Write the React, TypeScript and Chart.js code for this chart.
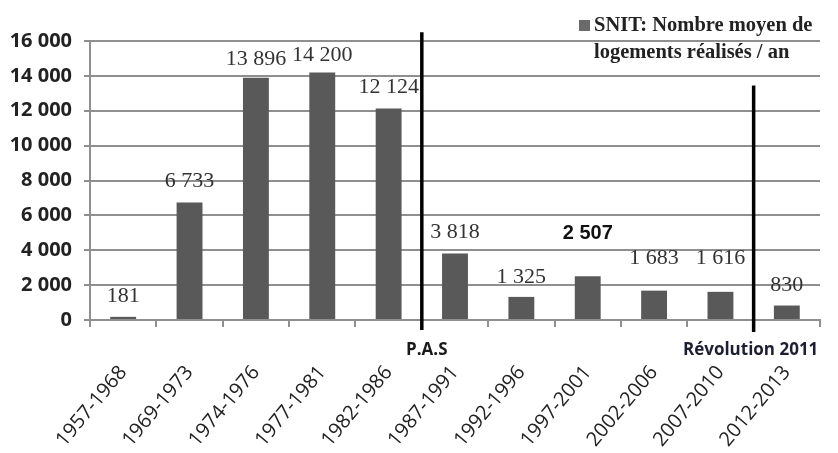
import React, { useEffect, useRef } from "react";
import { Chart, registerables } from "chart.js";

Chart.register(...registerables);

const categories = [
  "1957-1968", "1969-1973", "1974-1976", "1977-1981", "1982-1986", "1987-1991",
  "1992-1996", "1997-2001", "2002-2006", "2007-2010", "2012-2013",
];
const logements = [181, 6733, 13896, 14200, 12124, 3818, 1325, 2507, 1683, 1616, 830];
const seriesName = ["SNIT: Nombre moyen de", "logements réalisés / an"];
const yTicks = [0, 2000, 4000, 6000, 8000, 10000, 12000, 14000, 16000];
const markers = [
  { label: "P.A.S", after: 4 },
  { label: "Révolution 2011", after: 9 },
];

const fmt = (v: number) => String(v).replace(/\B(?=(\d{3})+(?!\d))/g, " ");

const BAR = "#595959";
const GRID = "#8f8f8f";

export default function App() {
  const ref = useRef<HTMLCanvasElement | null>(null);
  useEffect(() => {
    const canvas = ref.current;
    if (!canvas) return;
    const liftPx = [21, 21, 18, 17, 21, 21, 20, 43, 32, 34, 20];
    const overlay = {
      id: "overlay",
      afterDraw(chart: any) {
        const { ctx, scales } = chart;
        const x = scales.x;
        const y = scales.y;
        const meta = chart.getDatasetMeta(0);
        ctx.save();
        // data labels
        meta.data.forEach((bar: any, i: number) => {
          const special = logements[i] === 2507;
          ctx.font = special ? "bold 20px 'Liberation Sans'" : "22px 'Liberation Serif'";
          ctx.fillStyle = special ? "#111" : "#333";
          ctx.textAlign = "center";
          ctx.textBaseline = "middle";
          ctx.fillText(fmt(logements[i]), bar.x, bar.y - liftPx[i]);
        });
        // vertical markers
        const tops = [16500, 13450];
        markers.forEach((m, k) => {
          const px = (x.getPixelForValue(m.after) + x.getPixelForValue(m.after + 1)) / 2;
          ctx.strokeStyle = "#000";
          ctx.lineWidth = 3.5;
          ctx.beginPath();
          ctx.moveTo(px, y.getPixelForValue(tops[k]));
          ctx.lineTo(px, y.bottom + 10 + k * 2);
          ctx.stroke();
          ctx.font = "bold 17px 'Open Sans'";
          ctx.fillStyle = k === 0 ? "#1a1a1a" : "#1e1e33";
          ctx.textAlign = "center";
          ctx.textBaseline = "middle";
          const tx = k === 0 ? px + 5 : Math.min(px - 3, chart.width - 4 - ctx.measureText(m.label).width / 2);
          ctx.fillText(m.label, tx, y.bottom + 30);
        });
        // legend
        ctx.fillStyle = "#6a6a6a";
        ctx.fillRect(579, 20, 11, 11);
        ctx.fillStyle = "#222";
        ctx.font = "bold 20.5px 'Liberation Serif'";
        ctx.textAlign = "left";
        ctx.textBaseline = "middle";
        ctx.fillText(seriesName[0], 594, 26);
        ctx.fillText(seriesName[1], 594, 53);
        ctx.restore();
      },
    };
    const chart = new Chart(canvas, {
      type: "bar",
      data: {
        labels: categories,
        datasets: [
          {
            label: seriesName.join(" "),
            data: logements,
            backgroundColor: BAR,
            borderWidth: 0,
            barPercentage: 0.39,
            categoryPercentage: 1,
          },
        ],
      },
      options: {
        animation: false,
        responsive: false,
        devicePixelRatio: 1,
        layout: { padding: { top: 41, right: 18, left: 0, bottom: 0 } },
        plugins: {
          legend: { display: false },
          tooltip: { enabled: false },
          title: { display: false },
        },
        scales: {
          x: {
            offset: true,
            grid: {
              offset: true,
              drawOnChartArea: false,
              drawTicks: true,
              tickLength: 7,
              color: GRID,
              lineWidth: 2,
            },
            border: { display: true, color: GRID, width: 2 },
            ticks: {
              autoSkip: false,
              maxRotation: 50,
              minRotation: 50,
              padding: 34,
              color: "#222",
              font: { family: "'Open Sans'", size: 20 },
            },
            afterFit: (s: any) => {
              s.height = 133;
              s.paddingLeft = 0;
              s.paddingRight = 0;
            },
          },
          y: {
            min: 0,
            max: 16000,
            afterBuildTicks: (s: any) => {
              s.ticks = yTicks.map((v) => ({ value: v }));
            },
            grid: {
              color: GRID,
              lineWidth: 2,
              drawTicks: true,
              tickLength: 6,
            },
            border: { display: true, color: GRID, width: 2 },
            ticks: {
              padding: 12,
              color: "#222",
              font: { family: "'Open Sans'", size: 20, weight: "bold" },
              callback: (v: any) => fmt(Number(v)),
            },
            afterFit: (s: any) => {
              s.width = 90;
            },
          },
        },
      },
      plugins: [overlay],
    });
    return () => chart.destroy();
  }, []);
  return (
    <div style={{ position: "fixed", left: 0, top: 0, width: 838, height: 453, background: "#fff" }}>
      <canvas ref={ref} width={838} height={453} style={{ display: "block" }} />
    </div>
  );
}
